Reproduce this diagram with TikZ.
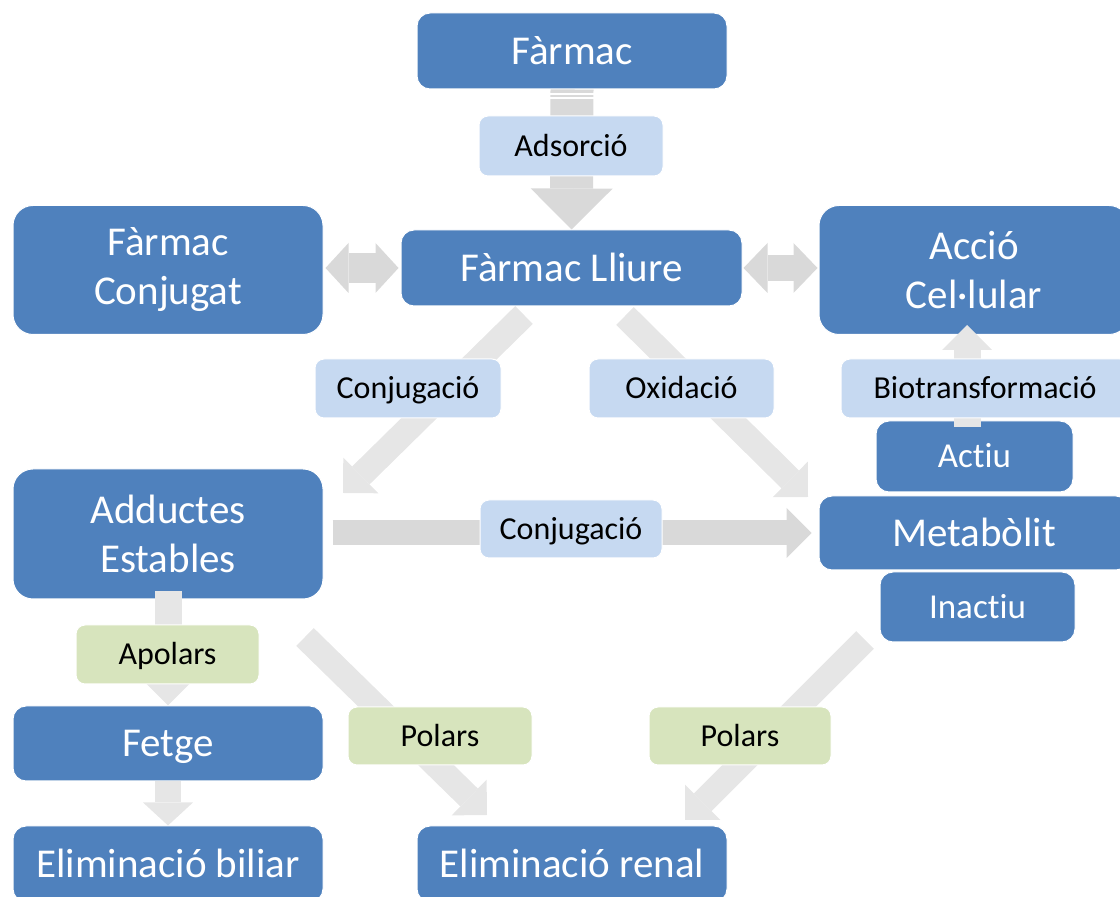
\documentclass[tikz,border=0pt]{standalone}
\usepackage{fontspec}
\setmainfont{Carlito}[Ligatures=NoCommon]
\usetikzlibrary{arrows.meta}

\definecolor{boxblue}{HTML}{4F81BD}
\definecolor{tagblue}{HTML}{C6D9F1}
\definecolor{taggreen}{HTML}{D7E4BD}
\definecolor{darkarrow}{HTML}{D9D9D9}
\definecolor{lightarrow}{HTML}{E6E6E6}

\tikzset{
  bluebase/.style={rectangle, rounded corners=13pt, fill=boxblue, draw=white,
    line width=1pt, text=white, inner sep=0pt, align=center,
    font=\fontsize{41}{49}\selectfont},
  box/.style={bluebase, text height=26.4pt, text depth=0pt},
  tallbox/.style={bluebase, rounded corners=20pt},
  smallbox/.style={bluebase, font=\fontsize{35}{40}\selectfont,
    text height=22.5pt, text depth=0pt},
  tag/.style={rectangle, rounded corners=9pt, fill=tagblue, draw=white,
    line width=1pt, text=black, inner sep=0pt,
    font=\fontsize{32}{36}\selectfont, text height=20.6pt, text depth=0pt},
  greentag/.style={tag, fill=taggreen},
  fat/.style n args={4}{draw=#1, line width=#2pt,
    -{Triangle[length=#4pt, width=#3pt, line width=0pt]}},
  fatboth/.style n args={4}{draw=#1, line width=#2pt,
    {Triangle[length=#4pt, width=#3pt, line width=0pt]}-{Triangle[length=#4pt, width=#3pt, line width=0pt]}},
}

\begin{document}
\begin{tikzpicture}[x=1pt, y=1pt]

    \useasboundingbox (0,0) rectangle (1120,897);
    \clip (0,0) rectangle (1120,897);

    %----- BLUE BOXES -----
    \node[box, minimum width=310, minimum height=76] (farmac) at (572,846) {Fàrmac};
    \node[box, minimum width=341, minimum height=76] (lliure) at (571.5,629) {Fàrmac Lliure};
    \node[tallbox, minimum width=310, minimum height=129] (conjugat) at (168,627) {Fàrmac\\Conjugat};
    \node[tallbox, minimum width=310, minimum height=129] (accio) at (974,627) {Acció\\Cel·lular};
    \node[smallbox, minimum width=197, minimum height=71] (actiu) at (974.5,440.5) {Actiu};
    \node[box, minimum width=310, minimum height=74] (metabolit) at (974,364) {Metabòlit};
    \node[smallbox, minimum width=195, minimum height=70] (inactiu) at (977.5,290) {Inactiu};
    \node[tallbox, minimum width=310, minimum height=130] (adductes) at (168,363) {Adductes\\Estables};
    \node[box, minimum width=310, minimum height=75] (fetge) at (168,153.5) {Fetge};
    \node[box, minimum width=310, minimum height=76] (biliar) at (168,33) {Eliminació biliar};
    \node[box, minimum width=310, minimum height=76] (renal) at (572,33) {Eliminació renal};

    %----- FREE ENDS OF THE DIAGONALS -----
    \coordinate (ctop) at (524,582);
    \coordinate (ctip) at (343,404);
    \coordinate (otop) at (625,581);
    \coordinate (otip) at (808,400);
    \coordinate (ptop) at (305,260);
    \coordinate (ptip) at (487,82);
    \coordinate (qtop) at (865,257);
    \coordinate (qtip) at (685,77);
    \coordinate (bfoot) at (967,470);
    \coordinate (bhead) at (967,572);

    %----- BIG GREY ARROWS -----
    \draw[fat={darkarrow}{43}{82}{41}] (farmac.south) -- (lliure.north);
    % stripes at the top of the shaft
    \draw[white, line width=1.5pt] (549,803) -- (594,803);
    \draw[white, line width=1.5pt] (549,799) -- (594,799);

    \draw[fatboth={darkarrow}{30}{50}{23}]
        ([xshift=2pt]lliure.west -| conjugat.east) -- ([xshift=-2pt]lliure.west);
    \draw[fatboth={darkarrow}{26}{50}{24}]
        ([xshift=1pt]lliure.east) -- ([xshift=-1pt]lliure.east -| accio.west);
    \draw[fat={darkarrow}{25}{50}{25}]
        ([xshift=9pt]metabolit.west -| adductes.east) -- ([xshift=-7pt]metabolit.west);

    %----- LIGHT GREY ARROWS -----
    \draw[fat={lightarrow}{25}{50}{25}] (ctop) -- (ctip);
    \draw[fat={lightarrow}{25}{50}{25}] (otop) -- (otip);
    \draw[fat={lightarrow}{25}{50}{25}] (ptop) -- (ptip);
    \draw[fat={lightarrow}{25}{50}{25}] (qtop) -- (qtip);
    \draw[fat={lightarrow}{27}{50}{25}] (bfoot) -- (bhead);
    \draw[fat={lightarrow}{27}{48}{24}] ([yshift=8pt]adductes.south) -- (fetge.north);
    \draw[fat={lightarrow}{26}{50}{23}] (fetge.south) -- (biliar.north);

    %----- LABELS ON THE ARROWS -----
    \node[tag, minimum width=184, minimum height=60] (adsorcio) at (571,751) {Adsorció};
    \node[tag, minimum width=186, minimum height=59] (conjA) at (408,508.5) {Conjugació};
    \node[tag, minimum width=185, minimum height=59] (oxidacio) at (681.5,508.5) {Oxidació};
    \node[tag, minimum width=288, minimum height=59] (biotrans) at (985,508.5) {Biotransformació};
    \node[tag, minimum width=182, minimum height=58] (conjB) at (571,368) {Conjugació};
    \node[greentag, minimum width=183, minimum height=59] (apolars) at (167.5,242.5) {Apolars};
    \node[greentag, minimum width=184, minimum height=58] (polarsA) at (440,161) {Polars};
    \node[greentag, minimum width=182, minimum height=58] (polarsB) at (740,161) {Polars};

\end{tikzpicture}
\end{document}
